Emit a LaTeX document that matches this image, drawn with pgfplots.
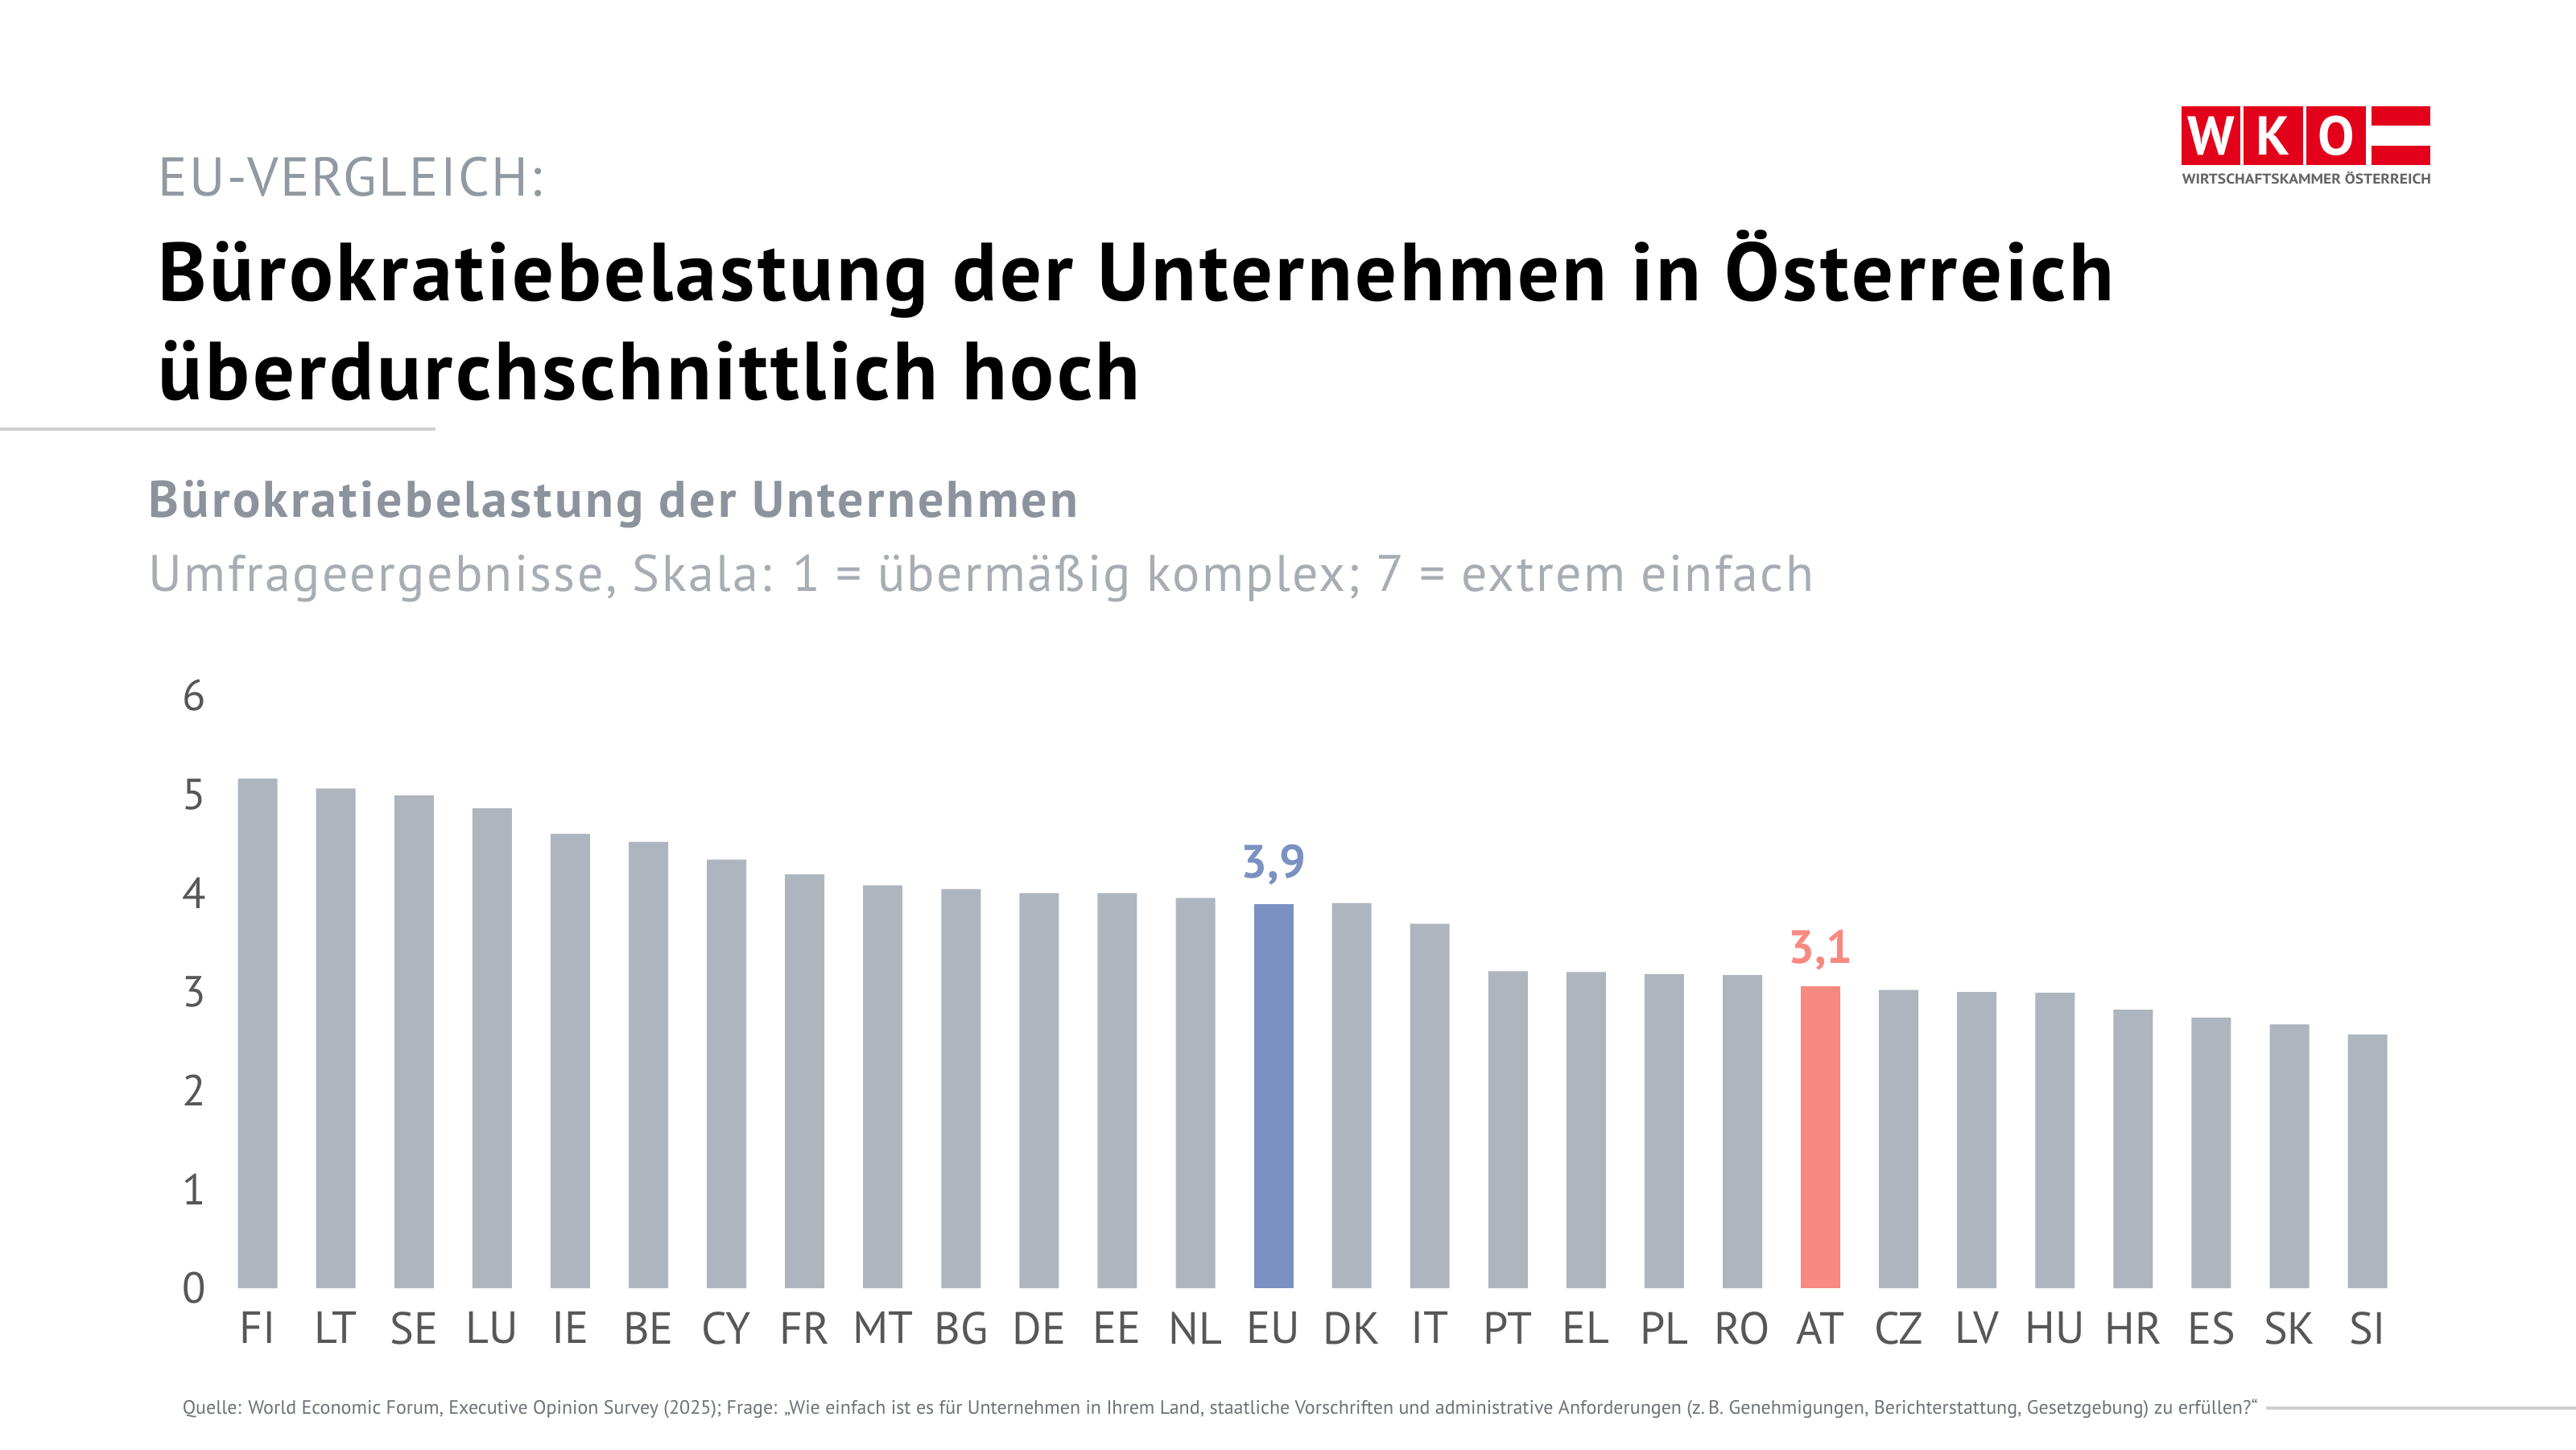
\documentclass[border=0pt]{standalone}
\usepackage{pgfplots}
\pgfplotsset{compat=1.18}
\usepackage{graphicx}
\usepackage{fontspec}
\setmainfont{PT Sans}

\definecolor{barGray}{HTML}{AEB5BE}
\definecolor{euBlue}{HTML}{7B91C2}
\definecolor{atRed}{HTML}{F78981}
\definecolor{logoRed}{HTML}{E2001A}
\definecolor{logoGray}{HTML}{646464}
\definecolor{kickerGray}{HTML}{9199A1}
\definecolor{subGrayA}{HTML}{8C939C}
\definecolor{subGrayB}{HTML}{A8ADB4}
\definecolor{tickGray}{HTML}{575757}
\definecolor{sourceGray}{HTML}{6D7278}
\definecolor{ruleGray}{HTML}{D0D0D0}

\begin{document}
\begin{tikzpicture}
\fill[white] (0,0) rectangle (800pt,450pt);
\path[use as bounding box] (0,0) rectangle (800pt,450pt);

% header
\node[anchor=base west, inner sep=0, text=kickerGray, font=\fontsize{17}{20}\selectfont\addfontfeatures{LetterSpace=3.5}] at (49pt,389pt) {EU-VERGLEICH:};
\node[anchor=base west, inner sep=0, font=\fontsize{25.6}{30}\selectfont\bfseries\addfontfeatures{LetterSpace=3.55}] at (49pt,356.7pt) {Bürokratiebelastung der Unternehmen in Österreich};
\node[anchor=base west, inner sep=0, font=\fontsize{25.6}{30}\selectfont\bfseries\addfontfeatures{LetterSpace=3.55}] at (49pt,325.8pt) {überdurchschnittlich hoch};
\draw[ruleGray, line width=1.2pt] (0,316.75pt) -- (135.25pt,316.75pt);

\node[anchor=base west, inner sep=0, text=subGrayA, font=\fontsize{16}{19}\selectfont\bfseries\addfontfeatures{LetterSpace=5}] at (46pt,289.25pt) {Bürokratiebelastung der Unternehmen};
\node[anchor=base west, inner sep=0, text=subGrayB, font=\fontsize{16}{19}\selectfont\addfontfeatures{LetterSpace=3.6}] at (46pt,266.25pt) {Umfrageergebnisse, Skala: 1 = übermäßig komplex; 7 = extrem einfach};

% logo
\fill[logoRed] (677.5pt,398.75pt) rectangle (695.8pt,417.1pt);
\fill[logoRed] (696.8pt,398.75pt) rectangle (715.25pt,417.1pt);
\fill[logoRed] (716.25pt,398.75pt) rectangle (734.7pt,417.1pt);
\fill[logoRed] (736.4pt,411.1pt) rectangle (754.8pt,417.1pt);
\fill[logoRed] (736.4pt,398.75pt) rectangle (754.8pt,404.75pt);
\node[text=white, inner sep=0, font=\fontsize{17}{17}\selectfont\bfseries] at (686.65pt,407.9pt) {W};
\node[text=white, inner sep=0, font=\fontsize{17}{17}\selectfont\bfseries] at (706.0pt,407.9pt) {K};
\node[text=white, inner sep=0, font=\fontsize{17}{17}\selectfont\bfseries] at (725.5pt,407.9pt) {O};
\node[anchor=base west, inner sep=0, text=logoGray, font=\fontsize{4.4}{5}\selectfont\bfseries] at (677.5pt,392.9pt) {\resizebox{77.3pt}{\height}{WIRTSCHAFTSKAMMER ÖSTERREICH}};

% source
\node[anchor=base west, inner sep=0, text=sourceGray, font=\fontsize{6.0}{7}\selectfont] at (56.5pt,11pt) {Quelle: World Economic Forum, Executive Opinion Survey (2025); Frage: „Wie einfach ist es für Unternehmen in Ihrem Land, staatliche Vorschriften und administrative Anforderungen (z.\,B. Genehmigungen, Berichterstattung, Gesetzgebung) zu erfüllen?“};
\draw[ruleGray, line width=1pt] (703.75pt,12.75pt) -- (800pt,12.75pt);

\begin{axis}[
  at={(67.9pt,50pt)}, anchor=south west,
  scale only axis, width=679.5pt, height=184pt,
  xmin=-0.5, xmax=27.5, ymin=0, ymax=6,
  axis line style={draw=none}, tick style={draw=none},
  major tick length=0pt,
  ybar=0pt, bar width=12.25pt,
  xtick={0,...,27},
  xticklabels={FI,LT,SE,LU,IE,BE,CY,FR,MT,BG,DE,EE,NL,EU,DK,IT,PT,EL,PL,RO,AT,CZ,LV,HU,HR,ES,SK,SI},
  ytick={0,...,6},
  /pgf/number format/assume math mode=true,
  xticklabel style={font=\fontsize{14}{14}\selectfont, text=tickGray, anchor=north, inner sep=0pt, yshift=-7.2pt},
  yticklabel style={font=\fontsize{13.5}{14}\selectfont, text=tickGray, anchor=east, inner sep=0pt, xshift=-3.6pt},
  clip=false,
]
\addplot[fill=barGray, draw=none, bar shift=0pt] coordinates {
  (0,5.16) (1,5.06) (2,4.99) (3,4.86) (4,4.60) (5,4.52) (6,4.34) (7,4.19)
  (8,4.08) (9,4.04) (10,4.00) (11,4.00) (12,3.95) (14,3.90) (15,3.69)
  (16,3.21) (17,3.20) (18,3.18) (19,3.17) (21,3.02) (22,3.00) (23,2.99)
  (24,2.82) (25,2.74) (26,2.67) (27,2.57)};
\addplot[fill=euBlue, draw=none, bar shift=0pt,
  nodes near coords={\pgfmathprintnumber[fixed,fixed zerofill,precision=1,use comma]{\pgfplotspointmeta}},
  point meta=y,
  every node near coord/.append style={anchor=base, inner sep=0pt, yshift=8pt, text=euBlue, font=\fontsize{14.5}{15}\selectfont\bfseries}]
  coordinates {(13,3.89)};
\addplot[fill=atRed, draw=none, bar shift=0pt,
  nodes near coords={\pgfmathprintnumber[fixed,fixed zerofill,precision=1,use comma]{\pgfplotspointmeta}},
  point meta=y,
  every node near coord/.append style={anchor=base, inner sep=0pt, yshift=7pt, text=atRed, font=\fontsize{14.5}{15}\selectfont\bfseries}]
  coordinates {(20,3.06)};
\end{axis}
\end{tikzpicture}
\end{document}
